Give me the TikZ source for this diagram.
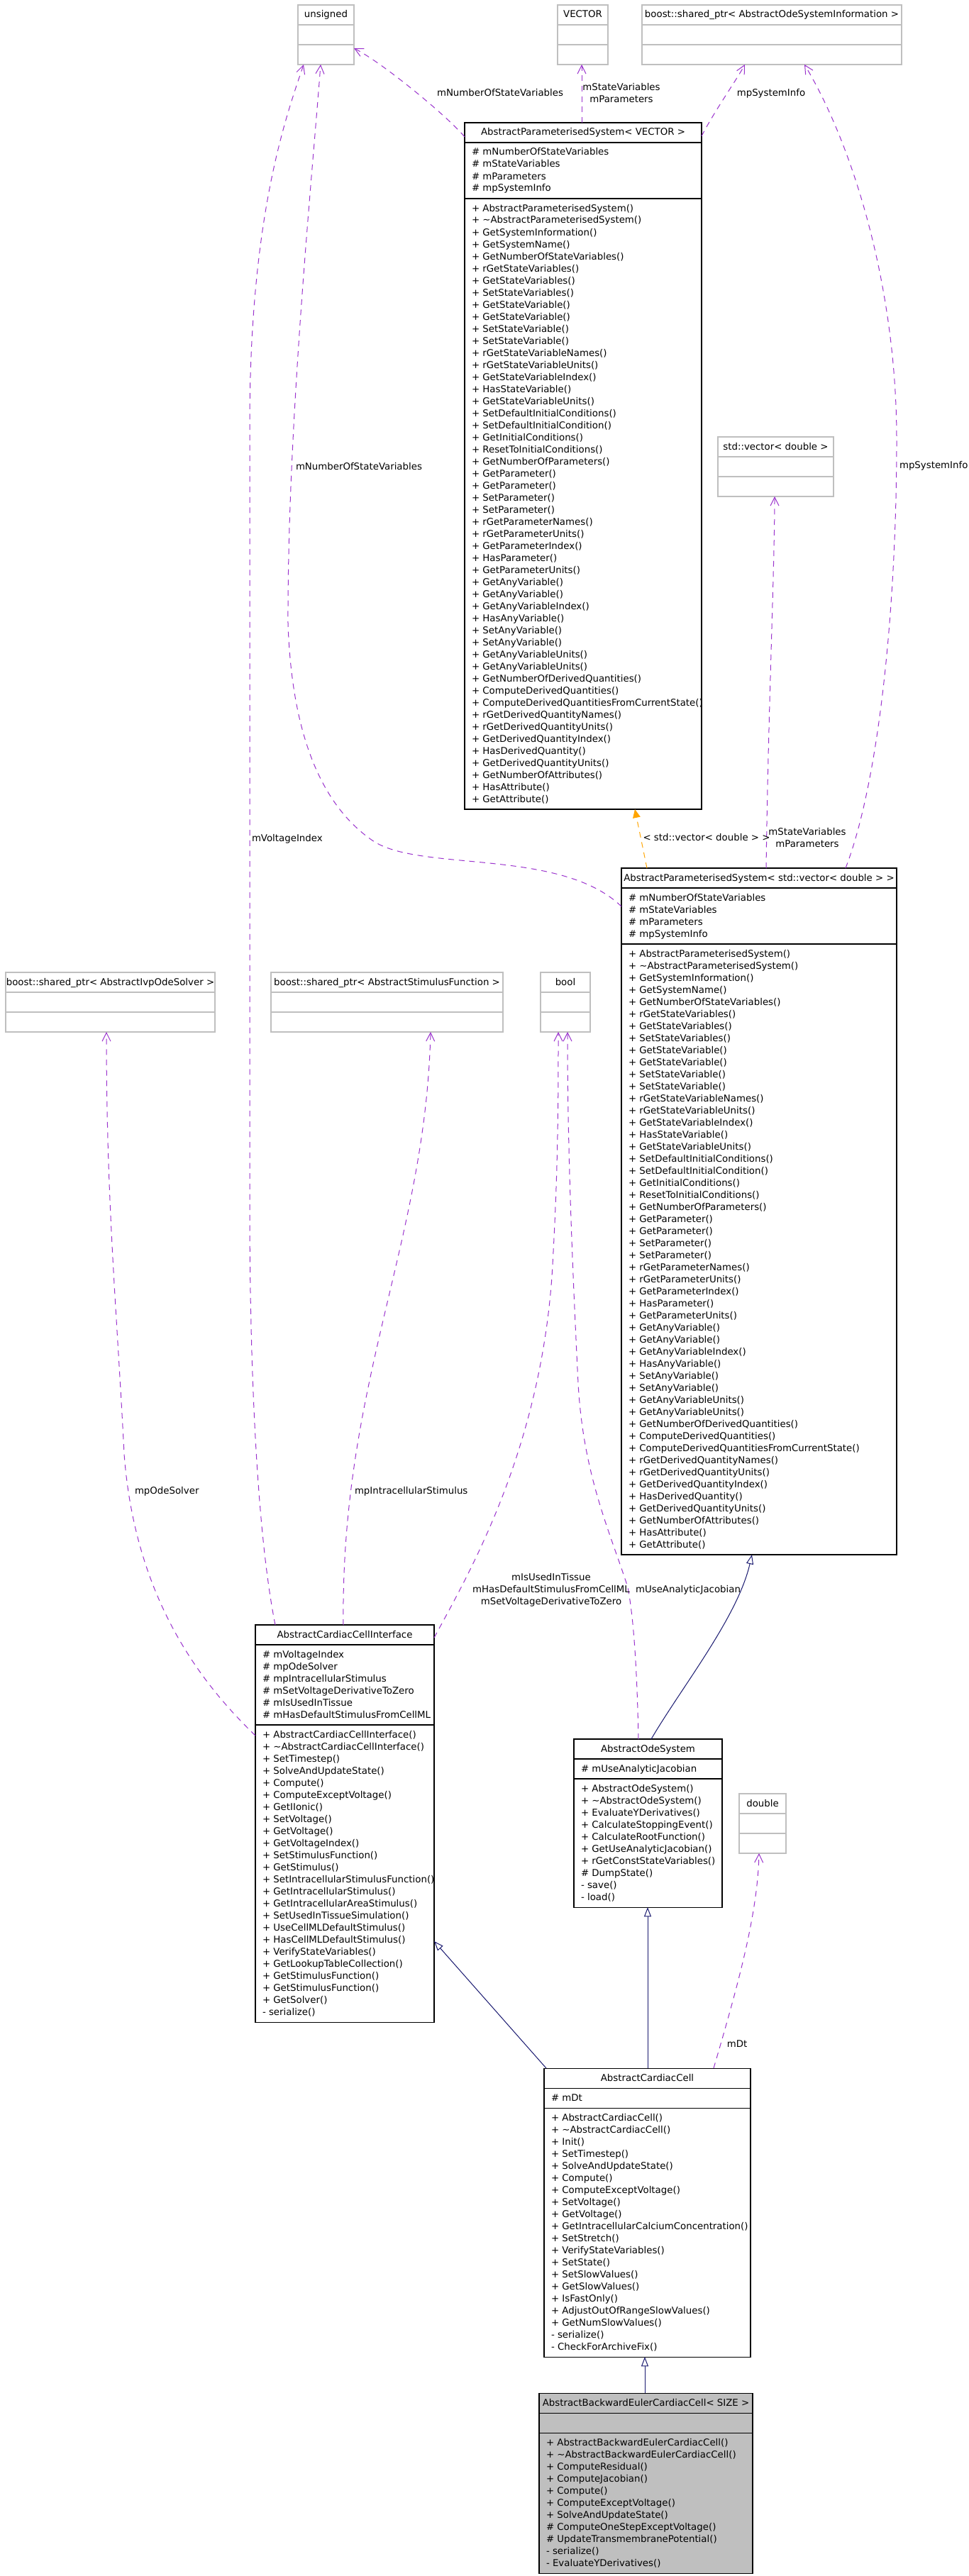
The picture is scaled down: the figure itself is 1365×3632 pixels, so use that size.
\documentclass[tikz,border=0pt]{standalone}
\usepackage{fontspec}
\setmainfont{DejaVu Sans}
\usetikzlibrary{arrows.meta}
\definecolor{edgepurple}{HTML}{9A32CD}
\definecolor{edgenavy}{HTML}{191970}
\definecolor{edgeorange}{HTML}{FFA500}
\definecolor{boxgray}{HTML}{BFBFBF}

% #1 name, #2 x left, #3 x right, #4 top, #5 end of header, #6 end of attributes, #7 bottom, #8 title, #9 style
\newcommand\umlbox[9]{%
  \node[#9, anchor=north west, minimum width={(#3-#2)*0.75pt}, minimum height={(#7-#4)*0.75pt}] (#1) at (#2,#4) {};
  \draw[#9] (#1.west |- 0,#5) -- (#1.east |- 0,#5) (#1.west |- 0,#6) -- (#1.east |- 0,#6);
  \node[txt, anchor=base] (#1-title) at ({(#2+#3)/2},{#4+18}) {#8};
}
% #1 name prefix, #2 x left, #3 section top, #4 list macro
\newcommand\umlrows[4]{%
  \foreach \rw [count=\i from 0] in #4 {\node[txt, anchor=base west] (#1-\i) at ({#2+10},{#3+18+17*\i}) {\rw};}%
}

\def\apsattrs{\# mNumberOfStateVariables, \# mStateVariables, \# mParameters, \# mpSystemInfo}
\def\apsmethods{+ AbstractParameterisedSystem(), + \textasciitilde AbstractParameterisedSystem(), + GetSystemInformation(), + GetSystemName(), + GetNumberOfStateVariables(), + rGetStateVariables(), + GetStateVariables(), + SetStateVariables(), + GetStateVariable(), + GetStateVariable(), + SetStateVariable(), + SetStateVariable(), + rGetStateVariableNames(), + rGetStateVariableUnits(), + GetStateVariableIndex(), + HasStateVariable(), + GetStateVariableUnits(), + SetDefaultInitialConditions(), + SetDefaultInitialCondition(), + GetInitialConditions(), + ResetToInitialConditions(), + GetNumberOfParameters(), + GetParameter(), + GetParameter(), + SetParameter(), + SetParameter(), + rGetParameterNames(), + rGetParameterUnits(), + GetParameterIndex(), + HasParameter(), + GetParameterUnits(), + GetAnyVariable(), + GetAnyVariable(), + GetAnyVariableIndex(), + HasAnyVariable(), + SetAnyVariable(), + SetAnyVariable(), + GetAnyVariableUnits(), + GetAnyVariableUnits(), + GetNumberOfDerivedQuantities(), + ComputeDerivedQuantities(), + ComputeDerivedQuantitiesFromCurrentState(), + rGetDerivedQuantityNames(), + rGetDerivedQuantityUnits(), + GetDerivedQuantityIndex(), + HasDerivedQuantity(), + GetDerivedQuantityUnits(), + GetNumberOfAttributes(), + HasAttribute(), + GetAttribute()}
\def\acciattrs{\# mVoltageIndex, \# mpOdeSolver, \# mpIntracellularStimulus, \# mSetVoltageDerivativeToZero, \# mIsUsedInTissue, \# mHasDefaultStimulusFromCellML}
\def\accimethods{+ AbstractCardiacCellInterface(), + \textasciitilde AbstractCardiacCellInterface(), + SetTimestep(), + SolveAndUpdateState(), + Compute(), + ComputeExceptVoltage(), + GetIIonic(), + SetVoltage(), + GetVoltage(), + GetVoltageIndex(), + SetStimulusFunction(), + GetStimulus(), + SetIntracellularStimulusFunction(), + GetIntracellularStimulus(), + GetIntracellularAreaStimulus(), + SetUsedInTissueSimulation(), + UseCellMLDefaultStimulus(), + HasCellMLDefaultStimulus(), + VerifyStateVariables(), + GetLookupTableCollection(), + GetStimulusFunction(), + GetStimulusFunction(), + GetSolver(), - serialize()}
\def\aosattrs{\# mUseAnalyticJacobian}
\def\aosmethods{+ AbstractOdeSystem(), + \textasciitilde AbstractOdeSystem(), + EvaluateYDerivatives(), + CalculateStoppingEvent(), + CalculateRootFunction(), + GetUseAnalyticJacobian(), + rGetConstStateVariables(), \# DumpState(), - save(), - load()}
\def\accattrs{\# mDt}
\def\accmethods{+ AbstractCardiacCell(), + \textasciitilde AbstractCardiacCell(), + Init(), + SetTimestep(), + SolveAndUpdateState(), + Compute(), + ComputeExceptVoltage(), + SetVoltage(), + GetVoltage(), + GetIntracellularCalciumConcentration(), + SetStretch(), + VerifyStateVariables(), + SetState(), + SetSlowValues(), + GetSlowValues(), + IsFastOnly(), + AdjustOutOfRangeSlowValues(), + GetNumSlowValues(), - serialize(), - CheckForArchiveFix()}
\def\abeccmethods{+ AbstractBackwardEulerCardiacCell(), + \textasciitilde AbstractBackwardEulerCardiacCell(), + ComputeResidual(), + ComputeJacobian(), + Compute(), + ComputeExceptVoltage(), + SolveAndUpdateState(), \# ComputeOneStepExceptVoltage(), \# UpdateTransmembranePotential(), - serialize(), - EvaluateYDerivatives()}

\begin{document}
\begin{tikzpicture}[x=0.75pt, y=-0.75pt,
  txt/.style={inner sep=0pt, outer sep=0pt, font=\fontsize{10}{12}\selectfont},
  lbl/.style={txt, anchor=base},
  cls/.style={draw=black, line width=0.8pt, inner sep=0pt, outer sep=0pt},
  ext/.style={draw=boxgray, line width=0.8pt, inner sep=0pt, outer sep=0pt},
  cur/.style={cls, fill=boxgray},
  usage/.style={draw=edgepurple, line width=0.75pt, dash pattern=on 6pt off 5pt, -{Straight Barb[length=9pt,width=9pt]}},
  inherit/.style={draw=edgenavy, line width=0.75pt, -{Triangle[length=10pt,width=7.5pt,fill=white]}},
  templ/.style={draw=edgeorange, line width=0.75pt, dash pattern=on 6pt off 5pt, -{Triangle[length=9pt,width=8pt]}}]

\fill[white] (0,0) rectangle (1365,3632);
\useasboundingbox (0,0) rectangle (1365,3632);

% ---- classes ----
\umlbox{uns}{420}{499}{7}{35}{63}{91}{unsigned}{ext}
\umlbox{vec}{786}{857}{7}{35}{63}{91}{VECTOR}{ext}
\umlbox{aosi}{905}{1271}{7}{35}{63}{91}{boost::shared\_ptr< AbstractOdeSystemInformation >}{ext}

\umlbox{apsv}{655}{989}{173}{201}{280}{1141}{AbstractParameterisedSystem< VECTOR >}{cls}
\umlrows{apsv-a}{655}{201}{\apsattrs}
\umlrows{apsv-m}{655}{280}{\apsmethods}

\umlbox{stdv}{1012}{1175}{616}{644}{672}{700}{std::vector< double >}{ext}

\umlbox{apsd}{876}{1264}{1224}{1252}{1331}{2192}{AbstractParameterisedSystem< std::vector< double > >}{cls}
\umlrows{apsd-a}{876}{1252}{\apsattrs}
\umlrows{apsd-m}{876}{1331}{\apsmethods}

\umlbox{aivp}{8}{303}{1371}{1399}{1427}{1455}{boost::shared\_ptr< AbstractIvpOdeSolver >}{ext}
\umlbox{asf}{382}{709}{1371}{1399}{1427}{1455}{boost::shared\_ptr< AbstractStimulusFunction >}{ext}
\umlbox{bool}{762}{832}{1371}{1399}{1427}{1455}{bool}{ext}

\umlbox{acci}{360}{612}{2291}{2319}{2432}{2851}{AbstractCardiacCellInterface}{cls}
\umlrows{acci-a}{360}{2319}{\acciattrs}
\umlrows{acci-m}{360}{2432}{\accimethods}

\umlbox{aos}{809}{1018}{2452}{2480}{2508}{2689}{AbstractOdeSystem}{cls}
\umlrows{aos-a}{809}{2480}{\aosattrs}
\umlrows{aos-m}{809}{2508}{\aosmethods}

\umlbox{dbl}{1042}{1108}{2529}{2557}{2585}{2613}{double}{ext}

\umlbox{acc}{767}{1058}{2916}{2944}{2972}{3323}{AbstractCardiacCell}{cls}
\umlrows{acc-a}{767}{2944}{\accattrs}
\umlrows{acc-m}{767}{2972}{\accmethods}

\umlbox{abecc}{760}{1061}{3374}{3402}{3430}{3628}{AbstractBackwardEulerCardiacCell< SIZE >}{cur}
\umlrows{abecc-m}{760}{3430}{\abeccmethods}

% ---- connectors ----
% APS<VECTOR> uses
\draw[usage] (apsv.west |- 0,193) .. controls (632,165) and (540,89) .. (uns.east |- 0,68);
\draw[usage] (apsv.north -| 820,0) -- (vec.south -| 820,0);
\draw[usage] (apsv.east |- 0,192) .. controls (1005,160) and (1040,110) .. (aosi.south -| 1050,0);
% APS<std::vector<double>>
\draw[usage] (apsd.north -| 1192,0) .. controls (1240,1100) and (1264,850) .. (1264,620)
   .. controls (1264,400) and (1200,200) .. (aosi.south -| 1134,0);
\draw[usage] (apsd.north -| 1080,0) .. controls (1083,1000) and (1092,800) .. (stdv.south -| 1092,0);
\draw[templ] (apsd.north -| 912,0) -- (apsv.south -| 895,0);
\draw[usage] (apsd.west |- 0,1278) .. controls (790,1195) and (590,1230) .. (525,1185)
   .. controls (460,1140) and (412,1050) .. (406,880)
   .. controls (405,600) and (440,250) .. (uns.south -| 452,0);
% AbstractCardiacCellInterface uses
\draw[usage] (acci.north -| 388,0) .. controls (360,2150) and (352,1900) .. (352,1700)
   -- (352,600) .. controls (352,300) and (405,160) .. (uns.south -| 428,0);
\draw[usage] (acci.west |- 0,2447) .. controls (280,2370) and (190,2250) .. (175,2050)
   .. controls (165,1850) and (150,1700) .. (aivp.south -| 150,0);
\draw[usage] (acci.north -| 484,0) .. controls (480,1950) and (600,1750) .. (asf.south -| 607,0);
\draw[usage] (acci.east |- 0,2309) .. controls (660,2220) and (760,2050) .. (778,1800)
   .. controls (787,1650) and (787,1550) .. (bool.south -| 787,0);
% AbstractOdeSystem
\draw[usage] (aos.north -| 900,0) .. controls (898,2350) and (893,2280) .. (885,2238)
   .. controls (860,2160) and (822,2080) .. (815,1950)
   .. controls (805,1750) and (800,1600) .. (bool.south -| 800,0);
\draw[inherit] (aos.north -| 918,0) .. controls (960,2380) and (1040,2280) .. (apsd.south -| 1060,0);
% AbstractCardiacCell
\draw[inherit] (acc.north -| 770,0) -- (acci.east |- 0,2737);
\draw[inherit] (acc.north -| 913,0) -- (aos.south -| 913,0);
\draw[usage] (acc.north -| 1006,0) .. controls (1040,2800) and (1068,2700) .. (dbl.south -| 1070,0);
% AbstractBackwardEulerCardiacCell
\draw[inherit] (abecc.north -| 909,0) -- (acc.south -| 909,0);

% ---- labels ----
\node[lbl] (l1) at (705,135.5) {mNumberOfStateVariables};
\node[lbl] (l2a) at (876,127.5) {mStateVariables};
\node[lbl] (l2b) at (876,144.5) {mParameters};
\node[lbl] (l3) at (1087,135.5) {mpSystemInfo};
\node[lbl, anchor=base west] (l4) at (1268,660.5) {mpSystemInfo};
\node[lbl] (l5a) at (1138,1177.5) {mStateVariables};
\node[lbl] (l5b) at (1138,1194.5) {mParameters};
\node[lbl] (l6) at (996,1185.5) {< std::vector< double > >};
\node[lbl, anchor=base west] (l7) at (417,662.5) {mNumberOfStateVariables};
\node[lbl, anchor=base west] (l8) at (355,1186) {mVoltageIndex};
\node[lbl, anchor=base west] (l9) at (190,2106) {mpOdeSolver};
\node[lbl, anchor=base west] (l10) at (500,2106) {mpIntracellularStimulus};
\node[lbl] (l11a) at (777,2228.5) {mIsUsedInTissue};
\node[lbl] (l11b) at (777,2245.5) {mHasDefaultStimulusFromCellML};
\node[lbl] (l11c) at (777,2262.5) {mSetVoltageDerivativeToZero};
\node[lbl] (l12) at (970,2245.5) {mUseAnalyticJacobian};
\node[lbl] (l13) at (1039,2886.5) {mDt};
\end{tikzpicture}
\end{document}
